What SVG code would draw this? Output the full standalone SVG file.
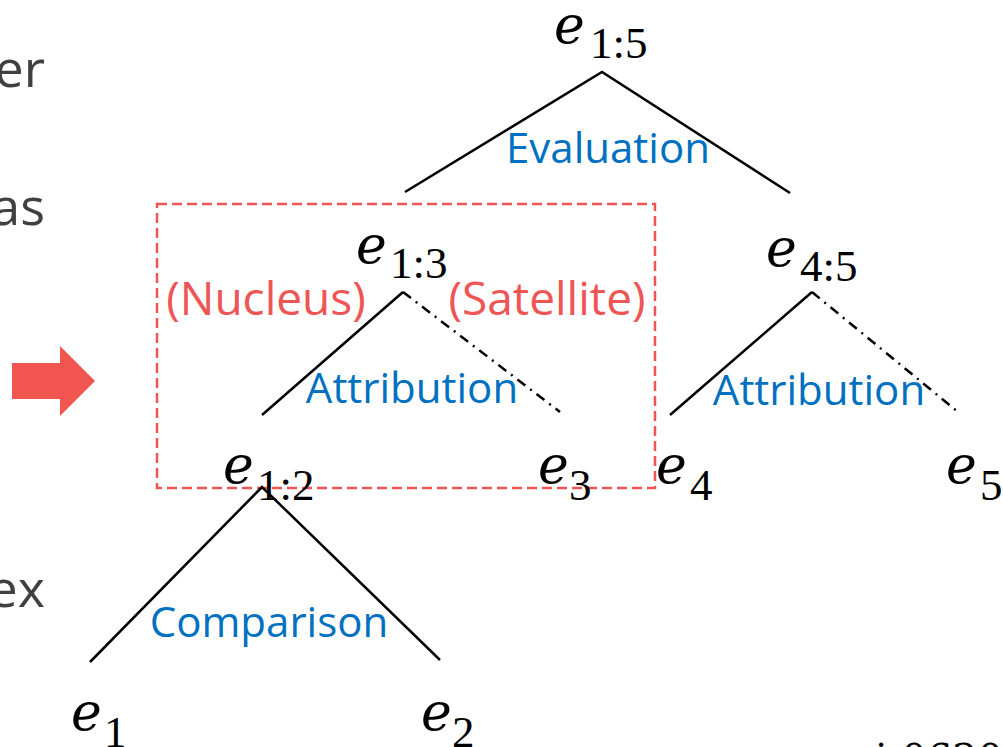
<svg xmlns="http://www.w3.org/2000/svg" width="1003" height="747" viewBox="0 0 1003 747">
<style>
.e{font-family:"DejaVu Serif",serif;font-style:italic;font-size:52px;fill:#000}
.s{font-family:"Liberation Serif",serif;font-size:45px;fill:#000}
.rel{font-family:"Open Sans","Noto Sans",sans-serif;font-size:42px;fill:#0070C0;text-anchor:middle}
.ns{font-family:"Open Sans","Noto Sans",sans-serif;font-size:46px;fill:#EE5555;text-anchor:middle}
.side{font-family:"Open Sans","Noto Sans",sans-serif;font-size:52px;fill:#404040;text-anchor:end}
.ln{stroke:#000;stroke-width:2.5;fill:none}
.dd{stroke:#000;stroke-width:2.5;fill:none;stroke-dasharray:10 6 2 6}
</style>
<g id="side-text">
<text class="side" x="45" y="87">er</text>
<text class="side" x="45" y="225">as</text>
<text class="side" x="45" y="607">ex</text>
<text x="875" y="772" style="font-family:'DejaVu Serif',serif;font-size:40px;fill:#000">i:0620</text>
</g>
<g id="arrow"><polygon points="12,363 60,363 60,346 95,381 60,416 60,399 12,399" fill="#F05550"/></g>
<g id="box"><rect x="157" y="204" width="498" height="284" fill="none" stroke="#EE5555" stroke-width="2.5" stroke-dasharray="10 5"/></g>
<g id="connectors">
<path class="ln" d="M405,192 L602,72 L790,193"/>
<path class="ln" d="M262,415 L403,292"/>
<path class="dd" d="M403,292 L560,412"/>
<path class="ln" d="M670,415 L812,292"/>
<path class="dd" d="M812,292 L958,412"/>
<path class="ln" d="M90,662 L262,487 L440,660"/>
</g>
<g id="labels">
<text class="rel" x="608" y="163">Evaluation</text>
<text class="ns" x="266" y="315">(Nucleus)</text>
<text class="ns" x="547" y="315">(Satellite)</text>
<text class="rel" x="412" y="403">Attribution</text>
<text class="rel" x="819" y="405">Attribution</text>
<text class="rel" x="269" y="637">Comparison</text>
</g>
<g id="n15"><text class="e" x="554" y="43">e</text><text class="s" x="590" y="58">1:5</text></g>
<g id="n13"><text class="e" x="356" y="263">e</text><text class="s" x="390" y="278">1:3</text></g>
<g id="n45"><text class="e" x="766" y="266">e</text><text class="s" x="800" y="281">4:5</text></g>
<g id="n12"><text class="e" x="223" y="483">e</text><text class="s" x="257" y="500">1:2</text></g>
<g id="n3"><text class="e" x="538" y="483">e</text><text class="s" x="569" y="500">3</text></g>
<g id="n4"><text class="e" x="656" y="483">e</text><text class="s" x="690" y="500">4</text></g>
<g id="n5"><text class="e" x="946" y="483">e</text><text class="s" x="980" y="500">5</text></g>
<g id="n1"><text class="e" x="71" y="730">e</text><text class="s" x="104" y="747">1</text></g>
<g id="n2"><text class="e" x="421" y="730">e</text><text class="s" x="452" y="747">2</text></g>
</svg>
